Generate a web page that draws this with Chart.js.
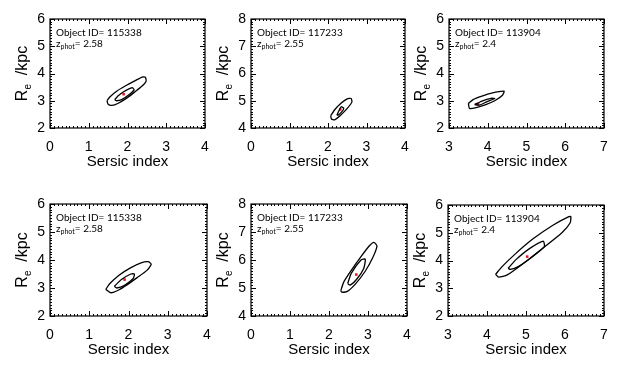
<!DOCTYPE html>
<html>
<head>
<meta charset="utf-8">
<script src="https://cdn.jsdelivr.net/npm/chart.js@4.4.1/dist/chart.umd.min.js"></script>
<style>
  body { margin: 0; background: #fff; width: 624px; height: 365px; position: relative; overflow: hidden; }
  canvas { position: absolute; }
</style>
</head>
<body>
<script>
// values
const objectIds = ['115338', '117233', '113904', '115338', '117233', '113904'];
const zPhot = ['2.58', '2.55', '2.4', '2.58', '2.55', '2.4'];
const xRanges = [[0, 4], [0, 4], [3, 7], [0, 4], [0, 4], [3, 7]];
const yRanges = [[2, 6], [4, 8], [2, 6], [2, 6], [4, 8], [2, 6]];

// best fit (Sersic index, Re)
const bestFit = [[1.9, 3.24], [2.32, 4.68], [3.75, 2.87], [1.9, 3.3], [2.7, 5.48], [5.03, 4.14]];

// outer contours
const outer1 = [[1.47,3.0],[1.55,3.15],[1.72,3.35],[1.95,3.55],[2.2,3.74],[2.38,3.87],[2.46,3.86],[2.48,3.72],[2.36,3.52],[2.15,3.28],[1.95,3.07],[1.75,2.9],[1.6,2.83],[1.5,2.87],[1.47,3.0]];
const outer2 = [[2.07,4.45],[2.18,4.68],[2.33,4.9],[2.5,5.07],[2.6,5.08],[2.62,4.95],[2.5,4.72],[2.32,4.46],[2.17,4.3],[2.09,4.33],[2.07,4.45]];
const outer3 = [[3.5,2.9],[3.62,3.04],[3.85,3.17],[4.1,3.28],[4.42,3.35],[4.38,3.2],[4.18,3.0],[3.95,2.86],[3.7,2.75],[3.53,2.72],[3.5,2.9]];
const outer4 = [[1.42,2.95],[1.52,3.15],[1.75,3.45],[2.05,3.72],[2.32,3.9],[2.5,3.94],[2.58,3.85],[2.47,3.63],[2.22,3.37],[1.97,3.12],[1.75,2.93],[1.55,2.83],[1.42,2.95]];
const outer5 = [[2.3,4.9],[2.38,5.22],[2.57,5.63],[2.82,6.12],[3.03,6.5],[3.15,6.63],[3.23,6.5],[3.12,6.08],[2.92,5.58],[2.67,5.13],[2.47,4.88],[2.33,4.85],[2.3,4.9]];
const outer6 = [[4.22,3.5],[4.38,3.77],[4.72,4.23],[5.18,4.78],[5.7,5.28],[6.1,5.58],[6.15,5.58],[6.13,5.35],[5.92,5.0],[5.42,4.43],[4.92,3.88],[4.52,3.48],[4.3,3.4],[4.22,3.5]];
const outerContours = [outer1, outer2, outer3, outer4, outer5, outer6];

// inner contours
const inner1 = [[1.67,3.04],[1.76,3.18],[1.9,3.33],[2.12,3.48],[2.17,3.4],[2.02,3.2],[1.85,3.04],[1.72,3.0],[1.67,3.04]];
const inner2 = [[2.23,4.47],[2.29,4.65],[2.34,4.78],[2.41,4.72],[2.35,4.58],[2.27,4.48],[2.23,4.47]];
const inner3 = [[3.66,2.86],[3.85,2.99],[4.09,3.09],[4.18,3.08],[3.96,2.95],[3.79,2.84],[3.66,2.86]];
const inner4 = [[1.64,3.06],[1.82,3.3],[2.06,3.5],[2.15,3.5],[2.12,3.34],[1.9,3.1],[1.7,3.0],[1.64,3.06]];
const inner5 = [[2.48,5.16],[2.57,5.52],[2.82,6.0],[2.93,6.03],[2.89,5.7],[2.72,5.33],[2.54,5.1],[2.48,5.16]];
const inner6 = [[4.54,3.72],[4.75,4.04],[5.08,4.42],[5.44,4.7],[5.47,4.5],[5.15,4.12],[4.8,3.78],[4.6,3.68],[4.54,3.72]];
const innerContours = [inner1, inner2, inner3, inner4, inner5, inner6];

// plot-area rectangles in the page [left, top, right, bottom]
const plotRects = [
  [50, 19, 205, 128], [251, 19, 405, 128], [449, 19, 604, 128],
  [50, 204, 207, 316], [251, 204, 407, 316], [448, 205, 604, 316]
];

const LEFT = 50, TOP = 19, RIGHT = 10, BOTTOM = 50;
const tickFont = '"Liberation Sans", Arial, sans-serif';

function toPts(arr) {
  return arr.map(p => ({ x: p[0], y: p[1] }));
}

const framePlugin = {
  id: 'frame',
  afterDraw(chart) {
    const ctx = chart.ctx;
    const a = chart.chartArea;
    const sx = chart.scales.x, sy = chart.scales.y;
    const i = chart.options.panelIndex;
    ctx.save();
    ctx.strokeStyle = '#000';
    ctx.lineWidth = 1.2;
    ctx.strokeRect(a.left, a.top, a.right - a.left, a.bottom - a.top);
    ctx.lineWidth = 1;
    // inward ticks, major every 1, minor every 0.1
    ctx.beginPath();
    for (let k = Math.round(sx.min * 10); k <= Math.round(sx.max * 10); k++) {
      const px = Math.round(sx.getPixelForValue(k / 10)) + 0.5;
      const len = k % 10 === 0 ? 5 : 2;
      ctx.moveTo(px, a.bottom); ctx.lineTo(px, a.bottom - len);
      ctx.moveTo(px, a.top); ctx.lineTo(px, a.top + len);
    }
    for (let k = Math.round(sy.min * 10); k <= Math.round(sy.max * 10); k++) {
      const py = Math.round(sy.getPixelForValue(k / 10)) + 0.5;
      const len = k % 10 === 0 ? 5 : 2;
      ctx.moveTo(a.left, py); ctx.lineTo(a.left + len, py);
      ctx.moveTo(a.right, py); ctx.lineTo(a.right - len, py);
    }
    ctx.stroke();

    // annotation
    ctx.fillStyle = '#000';
    ctx.textBaseline = 'middle';
    ctx.textAlign = 'left';
    ctx.font = '10px Lato, "Open Sans", sans-serif';
    ctx.fillText('Object ID= ' + objectIds[i], a.left + 6, a.top + 14);
    ctx.fillText('z', a.left + 6, a.top + 25);
    let zx = a.left + 6 + ctx.measureText('z').width;
    ctx.font = '7px Lato, "Open Sans", sans-serif';
    ctx.fillText('phot', zx, a.top + 28);
    zx += ctx.measureText('phot').width;
    ctx.font = '10px Lato, "Open Sans", sans-serif';
    ctx.fillText('= ' + zPhot[i], zx, a.top + 25);

    // x title
    ctx.font = '15px ' + tickFont;
    ctx.textAlign = 'center';
    ctx.fillText('Sersic index', (a.left + a.right) / 2, a.bottom + 34);

    // y title, rotated
    ctx.translate(a.left - 27, (a.top + a.bottom) / 2);
    ctx.rotate(-Math.PI / 2);
    ctx.font = '16px ' + tickFont;
    const wR = ctx.measureText('R').width;
    const wK = ctx.measureText('  /kpc').width;
    ctx.font = '10px ' + tickFont;
    const wE = ctx.measureText('e').width;
    let tx = -(wR + wE + wK) / 2;
    ctx.textAlign = 'left';
    ctx.font = '16px ' + tickFont;
    ctx.fillText('R', tx, 0);
    tx += wR;
    ctx.font = '10px ' + tickFont;
    ctx.fillText('e', tx, 5);
    tx += wE;
    ctx.font = '16px ' + tickFont;
    ctx.fillText('  /kpc', tx, 0);
    ctx.restore();
  }
};

function makePanel(i) {
  const r = plotRects[i];
  const plotW = r[2] - r[0], plotH = r[3] - r[1];
  const w = LEFT + plotW + RIGHT, h = TOP + plotH + BOTTOM;
  const canvas = document.createElement('canvas');
  canvas.width = w; canvas.height = h;
  canvas.style.left = (r[0] - LEFT) + 'px';
  canvas.style.top = (r[1] - TOP) + 'px';
  document.body.appendChild(canvas);

  new Chart(canvas, {
    type: 'scatter',
    data: {
      datasets: [
        { data: toPts(outerContours[i]), showLine: true, borderColor: '#000', borderWidth: 1.3, pointRadius: 0, tension: 0.2 },
        { data: toPts(innerContours[i]), showLine: true, borderColor: '#000', borderWidth: 1.3, pointRadius: 0, tension: 0.2 },
        { data: toPts([bestFit[i]]), showLine: false, pointRadius: 1.8, pointStyle: 'rect', backgroundColor: '#e8141e', borderColor: '#e8141e', borderWidth: 0 }
      ]
    },
    options: {
      panelIndex: i,
      responsive: false,
      animation: false,
      events: [],
      layout: { padding: { left: 0, top: TOP, right: RIGHT, bottom: 0 } },
      plugins: { legend: { display: false }, tooltip: { enabled: false } },
      scales: {
        x: {
          type: 'linear', min: xRanges[i][0], max: xRanges[i][1],
          grid: { display: false, drawTicks: false }, border: { display: false },
          ticks: { stepSize: 1, padding: 11, color: '#000', maxRotation: 0, font: { family: tickFont, size: 14 } },
          afterFit(s) { s.height = BOTTOM; s.paddingLeft = 0; s.paddingRight = 0; }
        },
        y: {
          type: 'linear', min: yRanges[i][0], max: yRanges[i][1],
          grid: { display: false, drawTicks: false }, border: { display: false },
          ticks: { stepSize: 1, padding: 5, color: '#000', font: { family: tickFont, size: 14 } },
          afterFit(s) { s.width = LEFT; s.paddingTop = 0; s.paddingBottom = 0; }
        }
      }
    },
    plugins: [framePlugin]
  });
}

for (let i = 0; i < 6; i++) makePanel(i);
</script>
</body>
</html>
